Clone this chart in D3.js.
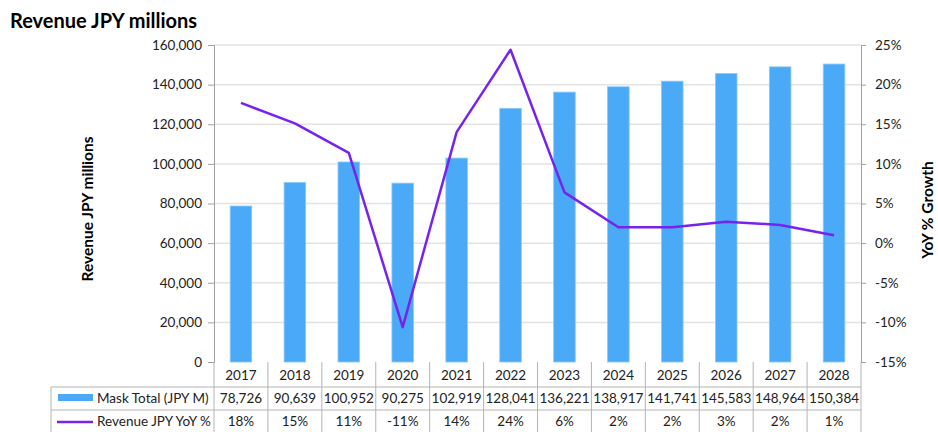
<!DOCTYPE html>
<html>
<head>
<meta charset="utf-8">
<script src="https://cdn.jsdelivr.net/npm/d3@7"></script>
<style>
  body { margin: 0; background: #fff; }
  svg text { font-family: Lato, "Open Sans", sans-serif; fill: #222; }
</style>
</head>
<body>
<svg id="chart" width="938" height="432"></svg>
<script>
// data
var years = ["2017","2018","2019","2020","2021","2022","2023","2024","2025","2026","2027","2028"];
var revenue = [78726, 90639, 100952, 90275, 102919, 128041, 136221, 138917, 141741, 145583, 148964, 150384];
var yoy = [17.7, 15.1, 11.4, -10.6, 14.0, 24.4, 6.4, 2.0, 2.0, 2.7, 2.3, 1.0];
var yoyLabels = ["18%","15%","11%","-11%","14%","24%","6%","2%","2%","3%","2%","1%"];
var revTicks = [0, 20000, 40000, 60000, 80000, 100000, 120000, 140000, 160000];
var pctTicks = [-15, -10, -5, 0, 5, 10, 15, 20, 25];

var barColor = "#4aaaf7", lineColor = "#7722ee", gridColor = "#e3e3e3", axisColor = "#a0a0a0";

var svg = d3.select("#chart");
var pLeft = 214, pRight = 861, pTop = 45, pBottom = 362;

var x = d3.scaleBand().domain(years).range([pLeft, pRight]).paddingInner(0.6).paddingOuter(0.3);
var xc = d3.scaleBand().domain(years).range([pLeft, pRight]);
var y = d3.scaleLinear().domain([0, 160000]).range([pBottom, pTop]);
var y2 = d3.scaleLinear().domain([-15, 25]).range([pBottom, pTop]);

// title
svg.append("text").attr("x", 10).attr("y", 28)
  .style("font-size", "20px").style("font-weight", "bold").style("fill", "#000")
  .text("Revenue JPY millions");

// gridlines
svg.append("g").selectAll("line").data(revTicks.slice(1)).enter().append("line")
  .attr("x1", pLeft).attr("x2", pRight)
  .attr("y1", function(d){ return y(d); }).attr("y2", function(d){ return y(d); })
  .style("stroke", gridColor).style("stroke-width", 1.5);

// bars
svg.append("g").selectAll("rect").data(revenue).enter().append("rect")
  .attr("x", function(d, i){ return x(years[i]); })
  .attr("width", x.bandwidth())
  .attr("y", function(d){ return y(d); })
  .attr("height", function(d){ return pBottom - y(d); })
  .style("fill", barColor)
  .style("stroke", "#8cc8fa").style("stroke-width", 0.8);

// line
var line = d3.line()
  .x(function(d, i){ return xc(years[i]) + xc.bandwidth() / 2; })
  .y(function(d){ return y2(d); });
svg.append("path").datum(yoy).attr("d", line)
  .style("fill", "none").style("stroke", lineColor).style("stroke-width", 2.5)
  .style("stroke-linejoin", "round");

// left axis
var axL = svg.append("g").attr("transform", "translate(" + pLeft + ",0)")
  .call(d3.axisLeft(y).tickValues(revTicks).tickSize(6).tickPadding(6).tickFormat(d3.format(",")));
axL.select(".domain").style("stroke", axisColor);
axL.selectAll(".tick line").style("stroke", axisColor);
axL.selectAll("text").style("font-size", "13.5px").style("font-family", "Lato, sans-serif").style("fill", "#222");

// right axis
var axR = svg.append("g").attr("transform", "translate(" + pRight + ",0)")
  .call(d3.axisRight(y2).tickValues(pctTicks).tickSize(5).tickPadding(9).tickFormat(function(d){ return d + "%"; }));
axR.select(".domain").style("stroke", axisColor);
axR.selectAll(".tick line").style("stroke", axisColor);
axR.selectAll("text").style("font-size", "13.5px").style("font-family", "Lato, sans-serif").style("fill", "#222");

// axis titles
svg.append("text").attr("transform", "translate(93,209) rotate(-90)")
  .attr("text-anchor", "middle").style("font-size", "15.5px").style("font-weight", "bold").style("fill", "#000")
  .text("Revenue JPY millions");
svg.append("text").attr("transform", "translate(933,210) rotate(-90)")
  .attr("text-anchor", "middle").style("font-size", "15.5px").style("font-weight", "bold").style("fill", "#000")
  .text("YoY % Growth");

// data table
var tbl = svg.append("g");
var tblLeft = 51, row1 = 387, row2 = 410, tblBottom = 440;
var gridStyle = function(s){ return s.style("stroke", "#b4b4b4").style("stroke-width", 1); };

gridStyle(tbl.selectAll("line.v").data(d3.range(years.length + 1)).enter().append("line")
  .attr("x1", function(i){ return i < years.length ? xc(years[i]) : pRight; })
  .attr("x2", function(i){ return i < years.length ? xc(years[i]) : pRight; })
  .attr("y1", pBottom).attr("y2", tblBottom));
gridStyle(tbl.append("line").attr("x1", tblLeft).attr("x2", tblLeft).attr("y1", row1).attr("y2", tblBottom));
gridStyle(tbl.append("line").attr("x1", tblLeft).attr("x2", pRight).attr("y1", row1).attr("y2", row1));
gridStyle(tbl.append("line").attr("x1", tblLeft).attr("x2", pRight).attr("y1", row2).attr("y2", row2));

var cell = function(arr, yy){
  tbl.append("g").selectAll("text").data(arr).enter().append("text")
    .attr("x", function(d, i){ return xc(years[i]) + xc.bandwidth() / 2; })
    .attr("y", yy).attr("text-anchor", "middle").style("font-size", "13.5px")
    .text(function(d){ return d; });
};
cell(years, 380);
cell(revenue.map(d3.format(",")), 403);
cell(yoyLabels, 426);

// legend keys
tbl.append("rect").attr("x", 58).attr("y", 394).attr("width", 35).attr("height", 7).style("fill", barColor);
tbl.append("text").attr("x", 97).attr("y", 403).style("font-size", "13.5px").text("Mask Total (JPY M)");
tbl.append("line").attr("x1", 57).attr("x2", 93).attr("y1", 422).attr("y2", 422)
  .style("stroke", lineColor).style("stroke-width", 2.5);
tbl.append("text").attr("x", 97).attr("y", 426).style("font-size", "13.5px").text("Revenue JPY YoY %");
</script>
</body>
</html>
